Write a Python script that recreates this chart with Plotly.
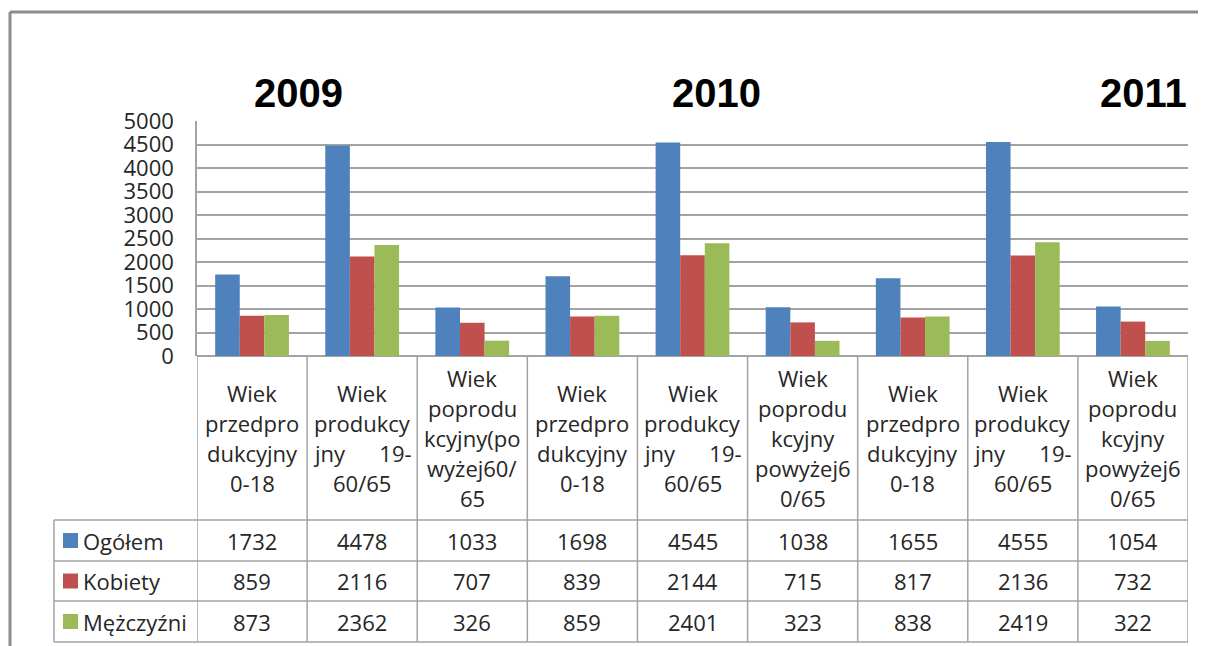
import plotly.graph_objects as go

# ---------------- data ----------------
years = ["2009", "2010", "2011"]
age_groups = [
    "Wiek<br>przedpro<br>dukcyjny<br>0-18",
    "Wiek<br>produkcy<br>jny\u00a0\u00a0\u00a0\u00a0\u00a0\u00a019-<br>60/65",
    "Wiek<br>poprodu<br>kcyjny(po<br>wyżej60/<br>65",
    "Wiek<br>przedpro<br>dukcyjny<br>0-18",
    "Wiek<br>produkcy<br>jny\u00a0\u00a0\u00a0\u00a0\u00a0\u00a019-<br>60/65",
    "Wiek<br>poprodu<br>kcyjny<br>powyżej6<br>0/65",
    "Wiek<br>przedpro<br>dukcyjny<br>0-18",
    "Wiek<br>produkcy<br>jny\u00a0\u00a0\u00a0\u00a0\u00a0\u00a019-<br>60/65",
    "Wiek<br>poprodu<br>kcyjny<br>powyżej6<br>0/65",
]
series_names = ["Ogółem", "Kobiety", "Mężczyźni"]
ogolem = [1732, 4478, 1033, 1698, 4545, 1038, 1655, 4555, 1054]
kobiety = [859, 2116, 707, 839, 2144, 715, 817, 2136, 732]
mezczyzni = [873, 2362, 326, 859, 2401, 323, 838, 2419, 322]
y_ticks = [0, 500, 1000, 1500, 2000, 2500, 3000, 3500, 4000, 4500, 5000]

series_values = [ogolem, kobiety, mezczyzni]
colors = ["#4F81BD", "#C0504D", "#9BBB59"]

# ---------------- layout constants ----------------
PAGE_OFF = 8  # default body margin of the html page
W, H = 1206 - PAGE_OFF, 646 - PAGE_OFF
ML, MT = 197 - PAGE_OFF, 121 - PAGE_OFF
PW, PH = 991, 235
MR = W - ML - PW
MB = H - MT - PH
FONT = "Open Sans"
FS = 22
TXT = "#262626"
LINE = "#a3a3a3"
HEADER_H = 164
ROW_H = [41, 40, 41]
LEGEND_W = 143
LINE_SP = 30

xs = list(range(len(age_groups)))

fig = go.Figure()
for name, vals, col in zip(series_names, series_values, colors):
    fig.add_trace(go.Bar(x=xs, y=vals, name=name, marker=dict(color=col, line=dict(width=0))))

shapes = []
annotations = []

row_tops = [-HEADER_H]
for h in ROW_H:
    row_tops.append(row_tops[-1] - h)
table_bottom = row_tops[-1]
xl_paper = -LEGEND_W / PW

# horizontal table lines
for yt in row_tops:
    shapes.append(dict(type="line", xref="paper", yref="paper", ysizemode="pixel", yanchor=0,
                       x0=xl_paper, x1=1, y0=yt, y1=yt, line=dict(color=LINE, width=1.5)))
# vertical table lines at category boundaries
for i in range(len(age_groups) + 1):
    shapes.append(dict(type="line", xref="x", yref="paper", ysizemode="pixel", yanchor=0,
                       x0=i - 0.5, x1=i - 0.5, y0=0, y1=table_bottom, line=dict(color=LINE, width=1.5)))
# legend column left border
shapes.append(dict(type="line", xref="paper", yref="paper", ysizemode="pixel", yanchor=0,
                   x0=xl_paper, x1=xl_paper, y0=-HEADER_H, y1=table_bottom, line=dict(color=LINE, width=1.5)))

# header category labels (one annotation per line)
for i, lab in enumerate(age_groups):
    lines = lab.split("<br>")
    n = len(lines)
    for j, ln in enumerate(lines):
        annotations.append(dict(x=i, y=0, xref="x", yref="paper", text=ln, showarrow=False,
                                xanchor="center", yanchor="middle",
                                yshift=-HEADER_H / 2 - (j - (n - 1) / 2) * LINE_SP,
                                font=dict(family=FONT, size=FS, color=TXT)))

# data rows + legend column
for r, (name, vals, col) in enumerate(zip(series_names, series_values, colors)):
    yc = (row_tops[r] + row_tops[r + 1]) / 2
    for i, v in enumerate(vals):
        annotations.append(dict(x=i, y=0, xref="x", yref="paper", text=str(v), showarrow=False,
                                xanchor="center", yanchor="middle", yshift=yc,
                                font=dict(family=FONT, size=FS, color=TXT)))
    shapes.append(dict(type="rect", xref="paper", yref="paper", xsizemode="pixel", xanchor=xl_paper,
                       ysizemode="pixel", yanchor=0, x0=9, x1=24, y0=yc - 7.5, y1=yc + 7.5,
                       fillcolor=col, line=dict(width=0)))
    annotations.append(dict(x=xl_paper, y=0, xref="paper", yref="paper", text=name, showarrow=False,
                            xanchor="left", yanchor="middle", xshift=27, yshift=yc,
                            font=dict(family=FONT, size=FS, color=TXT)))

# year titles
title_px = [298, 716, 1143]
for yr, px in zip(years, title_px):
    annotations.append(dict(x=(px - PAGE_OFF - ML) / PW, y=1, xref="paper", yref="paper",
                            text="<b>" + yr + "</b>", showarrow=False, xanchor="center",
                            yanchor="middle", yshift=28,
                            font=dict(family="Liberation Sans", size=40, color="#000000")))

# outer chart-area border (left and top edges)
bx = (10 - PAGE_OFF - ML) / PW
by = (MT + PH - (12 - PAGE_OFF)) / PH
shapes.append(dict(type="line", xref="paper", yref="paper", x0=bx, x1=bx, y0=by, y1=-3,
                   line=dict(color="#8c8c8c", width=3)))
shapes.append(dict(type="line", xref="paper", yref="paper", x0=bx, x1=1.5, y0=by, y1=by,
                   line=dict(color="#8c8c8c", width=3)))

fig.update_layout(
    width=W, height=H,
    margin=dict(l=ML, r=MR, t=MT, b=MB, pad=0),
    paper_bgcolor="white", plot_bgcolor="white",
    barmode="group", bargap=0.33, bargroupgap=0,
    showlegend=False,
    shapes=shapes, annotations=annotations,
    font=dict(family=FONT, color=TXT),
)
fig.update_xaxes(range=[-0.5, len(age_groups) - 0.5], showticklabels=False, showgrid=False,
                 zeroline=False, showline=False, ticks="")
fig.update_yaxes(range=[0, 5000], tickvals=y_ticks, ticktext=[str(t) for t in y_ticks],
                 showgrid=True, gridcolor=LINE, gridwidth=1.5,
                 zeroline=True, zerolinecolor=LINE, zerolinewidth=1.5,
                 showline=True, linecolor=LINE, linewidth=1.5, ticks="",
                 ticklabelstandoff=17, tickfont=dict(family=FONT, size=FS, color=TXT))

fig.write_html("out.html")
